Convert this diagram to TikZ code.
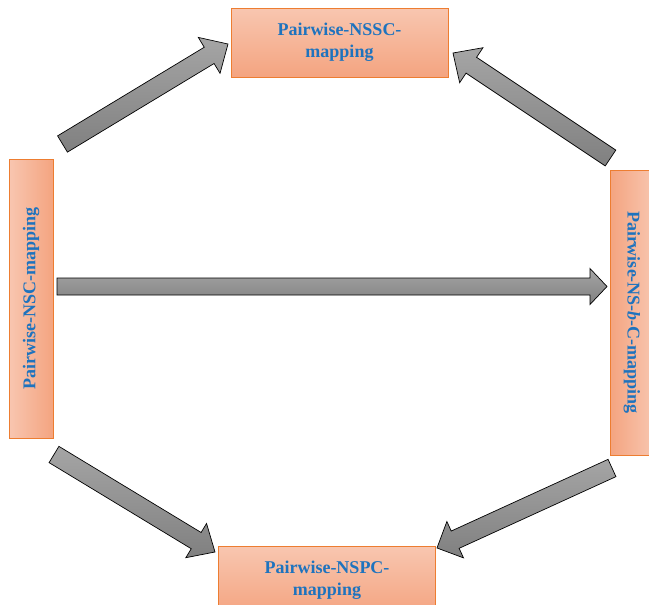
\documentclass[tikz,border=0pt]{standalone}
\usepackage{fontspec}
\setmainfont{Liberation Serif}
\usetikzlibrary{calc}
\definecolor{boxlight}{RGB}{248,198,176}
\definecolor{boxdark}{RGB}{244,164,128}
\definecolor{boxedge}{RGB}{237,125,49}
\definecolor{txtblue}{RGB}{30,115,190}
\definecolor{arrlight}{RGB}{165,165,165}
\definecolor{arrdark}{RGB}{128,128,128}
\tikzset{
  mapbox/.style={draw=boxedge, line width=1pt,
    text=txtblue, font=\bfseries\fontsize{18}{22}\selectfont, align=center, inner sep=0pt},
  vshade/.style={top color=boxlight, bottom color=boxdark},
  lshade/.style={left color=boxlight, right color=boxdark},
  rshade/.style={left color=boxdark, right color=boxlight},
  blockarrow/.style={draw=black, line width=0.7pt, line join=miter, top color=arrlight, bottom color=arrdark}
}
\newcommand{\blockarrow}[5]{%
  \coordinate (ba-b) at ($(#2)!#5!(#1)$);
  \draw[blockarrow] ($(#1)!#3!90:(#2)$) -- ($(ba-b)!#3!90:(#2)$) -- ($(ba-b)!#4!90:(#2)$) -- (#2)
    -- ($(ba-b)!#4!-90:(#2)$) -- ($(ba-b)!#3!-90:(#2)$) -- ($(#1)!#3!-90:(#2)$) -- cycle;}
\begin{document}
\begin{tikzpicture}[x=1pt,y=-1pt]
\useasboundingbox (0,0) rectangle (649,605);
\clip (0,0) rectangle (649,605);
\node[mapbox, vshade, minimum width=217pt, minimum height=69pt] (nssc) at (339.5,42.5) {Pairwise-NSSC-\\mapping};
\node[mapbox, vshade, minimum width=217pt, minimum height=69pt] (nspc) at (327,580.5) {\raisebox{3pt}{\begin{tabular}{@{}c@{}}Pairwise-NSPC-\\mapping\end{tabular}}};
\node[mapbox, lshade, rotate=90, minimum width=279pt, minimum height=44pt] (nsc) at (31,298.5) {Pairwise-NSC-mapping};
\node[mapbox, rshade, rotate=-90, minimum width=285pt, minimum height=44pt] (nsbc) at (632,312.5) {Pairwise-NS-\textit{b}-C-mapping};
% arrow ends
\coordinate (t1) at (62.5,144);  \coordinate (h1) at (228,44);
\coordinate (t2) at (610.5,158); \coordinate (h2) at (453,53);
\coordinate (t3) at (57,286.5);  \coordinate (h3) at (607,286.5);
\coordinate (t4) at (54,454.5);  \coordinate (h4) at (215,552);
\coordinate (t5) at (612,468);   \coordinate (h5) at (437,548);
\blockarrow{t1}{h1}{9.5pt}{21pt}{22pt}
\blockarrow{t2}{h2}{9.5pt}{21pt}{22pt}
\blockarrow{t3}{h3}{8.5pt}{18pt}{17pt}
\blockarrow{t4}{h4}{9.5pt}{20pt}{22pt}
\blockarrow{t5}{h5}{9.5pt}{20pt}{20pt}
\end{tikzpicture}
\end{document}
